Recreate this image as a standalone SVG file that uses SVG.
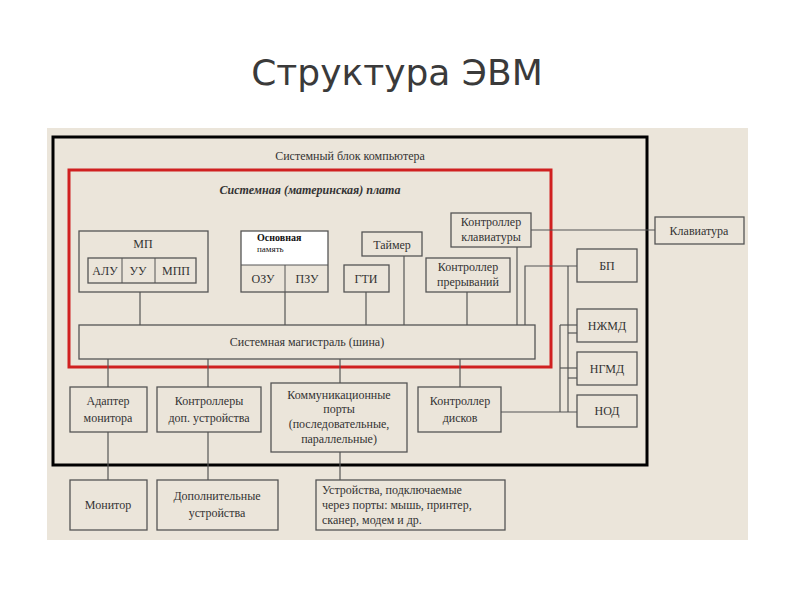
<svg xmlns="http://www.w3.org/2000/svg" width="794" height="595" viewBox="0 0 794 595">
<style>
.b{fill:none;stroke:#555;stroke-width:1.3}
.t{font-family:"Liberation Serif",serif;font-size:12px;fill:#333;text-anchor:middle}
.c line,.c polyline{stroke:#555;stroke-width:1.2;fill:none}
</style>
<rect width="794" height="595" fill="#fff"/>
<text x="397" y="85" font-family="DejaVu Sans,sans-serif" font-size="36" fill="#3a3a3a" text-anchor="middle">Структура ЭВМ</text>
<rect x="47" y="128" width="701" height="412" fill="#ebe5da"/>
<rect x="53" y="137" width="594" height="328" fill="none" stroke="#000" stroke-width="3"/>
<text class="t" x="350" y="160">Системный блок компьютера</text>
<rect x="69" y="170" width="482" height="197" fill="none" stroke="#d02020" stroke-width="3"/>
<text class="t" x="310" y="194" font-style="italic" font-weight="bold">Системная (материнская) плата</text>
<g class="c">
<line x1="140" y1="292" x2="140" y2="325"/><line x1="285" y1="292" x2="285" y2="325"/>
<line x1="366" y1="292" x2="366" y2="325"/><line x1="404" y1="256" x2="404" y2="325"/>
<line x1="467" y1="292" x2="467" y2="325"/><line x1="517" y1="247" x2="517" y2="325"/>
<polyline points="525,325 525,266 577,266"/><line x1="531" y1="230" x2="655" y2="230"/>
<line x1="568" y1="266" x2="568" y2="412"/><line x1="560" y1="325" x2="560" y2="412"/>
<line x1="560" y1="325" x2="577" y2="325"/><line x1="560" y1="368" x2="577" y2="368"/>
<line x1="568" y1="333" x2="577" y2="333"/><line x1="568" y1="378" x2="577" y2="378"/>
<line x1="501" y1="412" x2="577" y2="412"/>
<line x1="108" y1="359" x2="108" y2="387"/><line x1="208" y1="359" x2="208" y2="387"/>
<line x1="340" y1="359" x2="340" y2="383"/><line x1="460" y1="359" x2="460" y2="387"/>
<line x1="108" y1="432" x2="108" y2="480"/><line x1="208" y1="432" x2="208" y2="480"/>
<line x1="340" y1="452" x2="340" y2="480"/>
</g>
<g id="mp"><rect class="b" x="79" y="231" width="129" height="61"/><text class="t" x="143" y="248" font-size="13">МП</text>
<rect class="b" x="88" y="258" width="108" height="25"/><line x1="122" y1="258" x2="122" y2="283" stroke="#555"/><line x1="155" y1="258" x2="155" y2="283" stroke="#555"/>
<text class="t" x="105" y="275">АЛУ</text><text class="t" x="138" y="275">УУ</text><text class="t" x="176" y="275">МПП</text></g>
<g id="mem"><rect x="241" y="231" width="87" height="34" fill="#fff"/><rect class="b" x="241" y="231" width="87" height="61"/><line x1="241" y1="265" x2="328" y2="265" stroke="#555"/><line x1="285" y1="265" x2="285" y2="292" stroke="#555"/>
<text x="257" y="241" font-family="Liberation Serif,serif" font-size="10" font-weight="bold" fill="#111">Основная</text><text x="257" y="252" font-family="Liberation Serif,serif" font-size="9" fill="#111">память</text>
<text class="t" x="263" y="283">ОЗУ</text><text class="t" x="307" y="283">ПЗУ</text></g>
<g id="timer"><rect class="b" x="362" y="232" width="60" height="24"/><text class="t" x="392" y="249">Таймер</text></g>
<g id="gti"><rect class="b" x="344" y="265" width="45" height="27"/><text class="t" x="366" y="283">ГТИ</text></g>
<g id="kpr"><rect class="b" x="426" y="258" width="84" height="34"/><text class="t" x="468" y="271">Контроллер</text><text class="t" x="468" y="286">прерываний</text></g>
<g id="kkl"><rect class="b" x="451" y="213" width="80" height="34"/><text class="t" x="491" y="226">Контроллер</text><text class="t" x="491" y="241">клавиатуры</text></g>
<g id="bus"><rect class="b" x="79" y="325" width="456" height="34"/><text class="t" x="307" y="346">Системная магистраль (шина)</text></g>
<g id="kbd"><rect class="b" x="655" y="217" width="89" height="27"/><text class="t" x="699" y="235">Клавиатура</text></g>
<g id="bp"><rect class="b" x="577" y="249" width="60" height="33"/><text class="t" x="607" y="270">БП</text></g>
<g id="nzhmd"><rect class="b" x="577" y="309" width="60" height="33"/><text class="t" x="607" y="330">НЖМД</text></g>
<g id="ngmd"><rect class="b" x="577" y="352" width="60" height="33"/><text class="t" x="607" y="373">НГМД</text></g>
<g id="nod"><rect class="b" x="577" y="395" width="60" height="32"/><text class="t" x="607" y="415">НОД</text></g>
<g id="am"><rect class="b" x="70" y="387" width="77" height="45"/><text class="t" x="108" y="405">Адаптер</text><text class="t" x="108" y="422">монитора</text></g>
<g id="kdu"><rect class="b" x="157" y="387" width="104" height="45"/><text class="t" x="209" y="405">Контроллеры</text><text class="t" x="209" y="422">доп. устройства</text></g>
<g id="kp"><rect class="b" x="271" y="383" width="136" height="69"/><text class="t" x="339" y="399">Коммуникационные</text><text class="t" x="339" y="413">порты</text><text class="t" x="339" y="428">(последовательные,</text><text class="t" x="339" y="443">параллельные)</text></g>
<g id="kd"><rect class="b" x="418" y="387" width="83" height="45"/><text class="t" x="460" y="405">Контроллер</text><text class="t" x="460" y="422">дисков</text></g>
<g id="mon"><rect class="b" x="70" y="480" width="77" height="50"/><text class="t" x="108" y="509">Монитор</text></g>
<g id="du"><rect class="b" x="157" y="480" width="121" height="50"/><text class="t" x="217" y="500">Дополнительные</text><text class="t" x="217" y="517">устройства</text></g>
<g id="ud"><rect class="b" x="316" y="480" width="189" height="50"/><text x="322" y="494" font-family="Liberation Serif,serif" font-size="12" fill="#333">Устройства, подключаемые</text><text x="322" y="509" font-family="Liberation Serif,serif" font-size="12" fill="#333">через порты: мышь, принтер,</text><text x="322" y="524" font-family="Liberation Serif,serif" font-size="12" fill="#333">сканер, модем и др.</text></g>
</svg>
